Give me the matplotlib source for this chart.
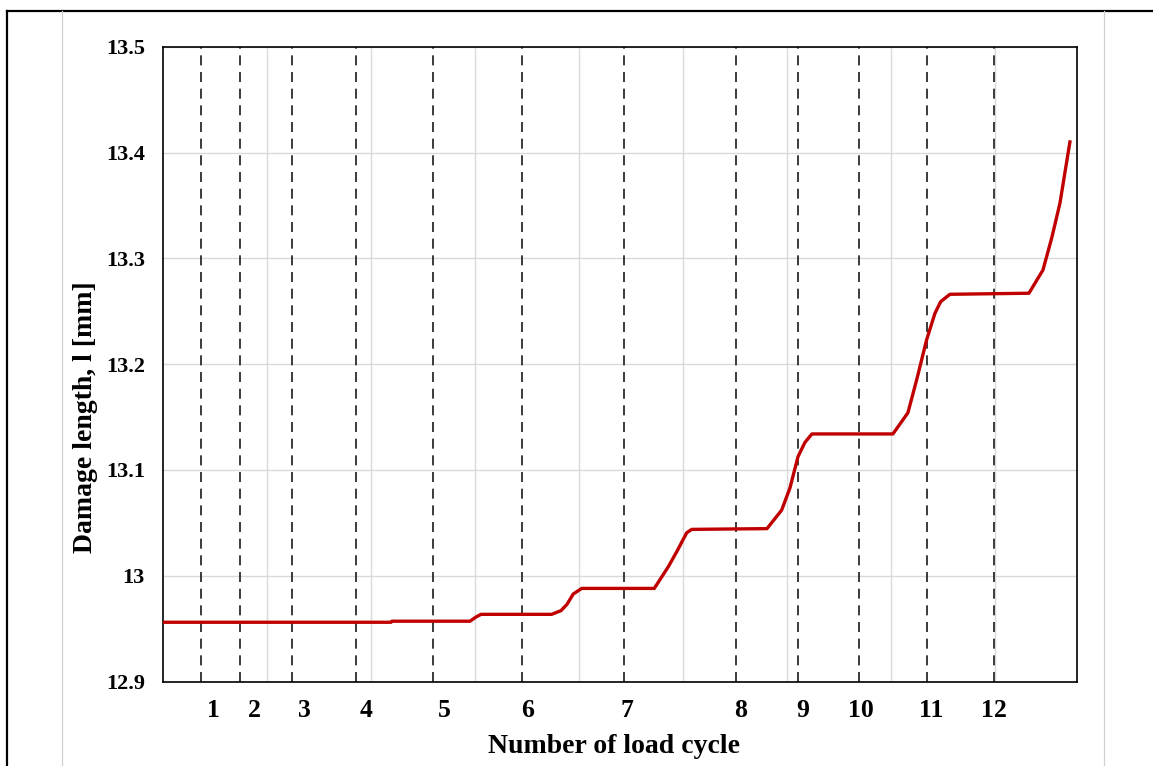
import numpy as np
import matplotlib
matplotlib.use('Agg')
import matplotlib.pyplot as plt
from matplotlib.lines import Line2D

plt.rcParams['font.family'] = ['Liberation Serif', 'DejaVu Serif']
plt.rcParams['font.weight'] = 'bold'

# curve (x in grid units, y in mm)
t = [0.0, 2.192, 2.202, 2.952, 3.01, 3.058, 3.737, 3.827, 3.885, 3.945, 4.026,
     4.724, 4.859, 4.940, 5.036, 5.084, 5.808, 5.949, 6.029, 6.106, 6.173, 6.240,
     7.019, 7.163, 7.247, 7.343, 7.423, 7.478, 7.567, 8.327, 8.462, 8.548, 8.625, 8.721]
damage = [12.956, 12.956, 12.957, 12.957, 12.961, 12.9635, 12.9635, 12.967, 12.973,
          12.9827, 12.988, 12.988, 13.0085, 13.0227, 13.0406, 13.0438, 13.0445, 13.062,
          13.083, 13.1125, 13.126, 13.134, 13.134, 13.154, 13.185, 13.223, 13.248,
          13.259, 13.266, 13.267, 13.289, 13.320, 13.352, 13.410]

cycle_lines = [0.365, 0.740, 1.2375, 1.856, 2.593, 3.452, 4.433, 5.510, 6.106, 6.689, 7.346, 7.990]
cycle_pos = [0.488, 0.875, 1.356, 1.949, 2.702, 3.510, 4.462, 5.558, 6.154, 6.712, 7.385, 7.995]
cycle_names = ['1', '2', '3', '4', '5', '6', '7', '8', '9', '10', '11', '12']

y_ticks = [12.9, 13.0, 13.1, 13.2, 13.3, 13.4, 13.5]
y_labels = ['12.9', '13', '13.1', '13.2', '13.3', '13.4', '13.5']

fig = plt.figure(figsize=(11.53, 7.66), dpi=100)
ax = fig.add_axes([0.1414, 0.1103, 0.7924, 0.8287])

ax.set_xlim(0, 8.786)
ax.set_ylim(12.9, 13.5)
ax.set_xticks(np.arange(1, 9))
ax.set_xticklabels([])
ax.set_yticks(y_ticks)
ax.set_yticklabels(y_labels, fontsize=16, fontweight='bold')
ax.tick_params(length=0, pad=13)
ax.grid(True, color='#d9d9d9', lw=1.0)
ax.set_axisbelow(True)
for s in ax.spines.values():
    s.set_linewidth(1.2)
    s.set_color('black')

for xc in cycle_lines:
    ax.axvline(xc, color='#1a1a1a', lw=1.2, ls=(0, (6, 4)), zorder=2)

ax.plot(t, damage, color='#c00000', lw=2.4, zorder=3)

for xc, name in zip(cycle_pos, cycle_names):
    ax.text(xc, -0.045, name, transform=ax.get_xaxis_transform(),
            ha='center', va='center', fontsize=18.5, fontweight='bold')

fig.text(0.5325, 0.0252, 'Number of load cycle', ha='center', va='center',
         fontsize=20, fontweight='bold')
fig.text(0.0745, 0.455, 'Damage length, l [mm]', ha='center', va='center',
         rotation=90, fontsize=20, fontweight='bold')

# page frame around the chart
fig.add_artist(Line2D([0.006, 1.0], [0.986, 0.986], color='black', lw=1.6))
fig.add_artist(Line2D([0.0065, 0.0065], [0.0, 0.986], color='black', lw=1.6))
fig.add_artist(Line2D([0.054, 0.054], [0.0, 0.986], color='#d0d0d0', lw=0.9))
fig.add_artist(Line2D([0.9575, 0.9575], [0.0, 0.986], color='#d0d0d0', lw=0.9))

fig.savefig('out.png', dpi=100)
